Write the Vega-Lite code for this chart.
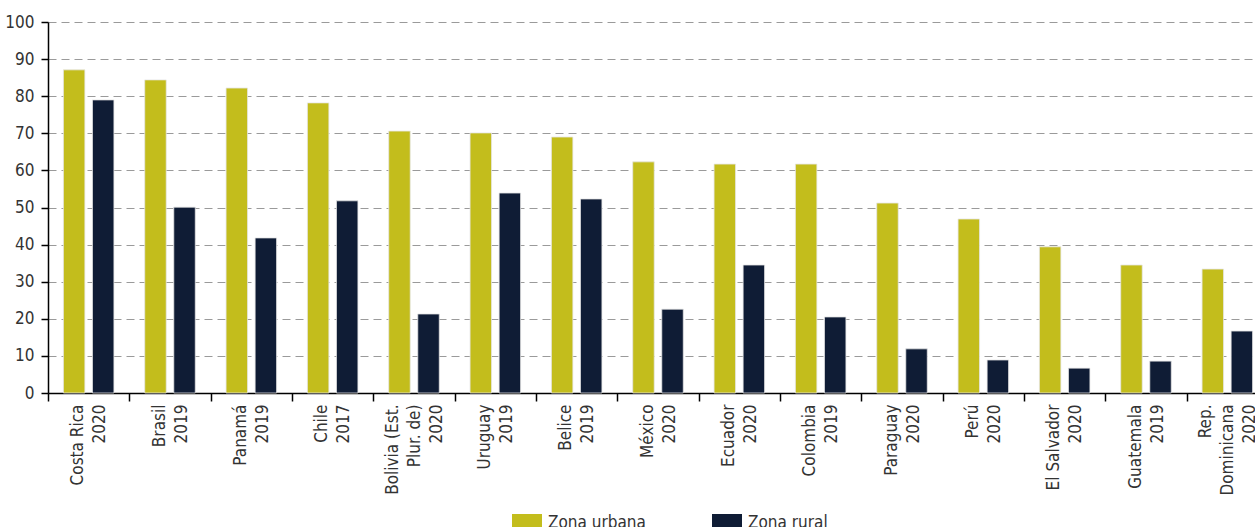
{
  "$schema": "https://vega.github.io/schema/vega-lite/v6.json",
  "width": 1220,
  "height": 371,
  "autosize": {"type": "none"},
  "padding": {"left": 48, "top": 22, "right": 0, "bottom": 134},
  "background": "white",
  "config": {
    "font": "DejaVu Sans Condensed",
    "view": {"stroke": null},
    "axis": {"labelFont": "DejaVu Sans Condensed", "labelColor": "#333333", "labelFontSize": 17},
    "legend": {"labelFont": "DejaVu Sans Condensed"}
  },
  "data": {
    "values": [
      {"pais": "Costa Rica|2020", "zona": "Zona urbana", "valor": 87.1},
      {"pais": "Costa Rica|2020", "zona": "Zona rural", "valor": 79.0},
      {"pais": "Brasil|2019", "zona": "Zona urbana", "valor": 84.4},
      {"pais": "Brasil|2019", "zona": "Zona rural", "valor": 50.1},
      {"pais": "Panamá|2019", "zona": "Zona urbana", "valor": 82.2},
      {"pais": "Panamá|2019", "zona": "Zona rural", "valor": 41.8},
      {"pais": "Chile|2017", "zona": "Zona urbana", "valor": 78.2},
      {"pais": "Chile|2017", "zona": "Zona rural", "valor": 51.8},
      {"pais": "Bolivia (Est.|Plur. de)|2020", "zona": "Zona urbana", "valor": 70.6},
      {"pais": "Bolivia (Est.|Plur. de)|2020", "zona": "Zona rural", "valor": 21.3},
      {"pais": "Uruguay|2019", "zona": "Zona urbana", "valor": 70.1},
      {"pais": "Uruguay|2019", "zona": "Zona rural", "valor": 53.9},
      {"pais": "Belice|2019", "zona": "Zona urbana", "valor": 69.0},
      {"pais": "Belice|2019", "zona": "Zona rural", "valor": 52.3},
      {"pais": "México|2020", "zona": "Zona urbana", "valor": 62.3},
      {"pais": "México|2020", "zona": "Zona rural", "valor": 22.6},
      {"pais": "Ecuador|2020", "zona": "Zona urbana", "valor": 61.7},
      {"pais": "Ecuador|2020", "zona": "Zona rural", "valor": 34.5},
      {"pais": "Colombia|2019", "zona": "Zona urbana", "valor": 61.7},
      {"pais": "Colombia|2019", "zona": "Zona rural", "valor": 20.5},
      {"pais": "Paraguay|2020", "zona": "Zona urbana", "valor": 51.2},
      {"pais": "Paraguay|2020", "zona": "Zona rural", "valor": 11.9},
      {"pais": "Perú|2020", "zona": "Zona urbana", "valor": 46.9},
      {"pais": "Perú|2020", "zona": "Zona rural", "valor": 8.9},
      {"pais": "El Salvador|2020", "zona": "Zona urbana", "valor": 39.4},
      {"pais": "El Salvador|2020", "zona": "Zona rural", "valor": 6.7},
      {"pais": "Guatemala|2019", "zona": "Zona urbana", "valor": 34.5},
      {"pais": "Guatemala|2019", "zona": "Zona rural", "valor": 8.6},
      {"pais": "Rep.|Dominicana|2020", "zona": "Zona urbana", "valor": 33.4},
      {"pais": "Rep.|Dominicana|2020", "zona": "Zona rural", "valor": 16.7}
    ]
  },
  "mark": {"type": "bar", "stroke": "#e6e6e6", "strokeWidth": 0.8},
  "encoding": {
    "x": {
      "field": "pais",
      "type": "nominal",
      "sort": null,
      "scale": {"paddingInner": 0, "paddingOuter": 0},
      "axis": {
        "title": null,
        "labelAngle": -90,
        "labelAlign": "right",
        "labelBaseline": "middle",
        "labelExpr": "split(datum.label, '|')",
        "labelLineHeight": 22,
        "labelPadding": 3,
        "labelOffset": {"condition": {"test": "length(split(datum.value, '|')) == 3", "value": -22}, "value": -11},
        "tickBand": "extent",
        "tickSize": 8,
        "tickColor": "#000000",
        "domainColor": "#000000",
        "domainWidth": 1.5,
        "tickWidth": 1.5,
        "grid": false,
        "labelLimit": 300
      }
    },
    "xOffset": {
      "field": "zona",
      "type": "nominal",
      "sort": ["Zona urbana", "Zona rural"],
      "scale": {"paddingInner": 0.26, "paddingOuter": 0.53}
    },
    "y": {
      "field": "valor",
      "type": "quantitative",
      "scale": {"domain": [0, 100], "nice": false},
      "axis": {
        "title": null,
        "values": [0, 10, 20, 30, 40, 50, 60, 70, 80, 90, 100],
        "grid": true,
        "gridDash": [8, 5],
        "gridColor": "#9a9a9a",
        "gridWidth": 1,
        "domainColor": "#000000",
        "domainWidth": 1.5,
        "tickColor": "#000000",
        "tickWidth": 1.5,
        "tickSize": 7,
        "labelPadding": 7
      }
    },
    "color": {
      "field": "zona",
      "type": "nominal",
      "sort": ["Zona urbana", "Zona rural"],
      "scale": {"domain": ["Zona urbana", "Zona rural"], "range": ["#C3BD1C", "#0F1C35"]},
      "legend": {
        "title": null,
        "orient": "none",
        "legendX": 464,
        "legendY": 486,
        "direction": "horizontal",
        "symbolType": "M-1,-0.6H1V0.6H-1Z",
        "symbolSize": 900,
        "symbolStrokeWidth": 0,
        "symbolOpacity": 1,
        "labelFontSize": 17,
        "labelColor": "#333333",
        "labelOffset": 6,
        "columnPadding": 66
      }
    }
  }
}
